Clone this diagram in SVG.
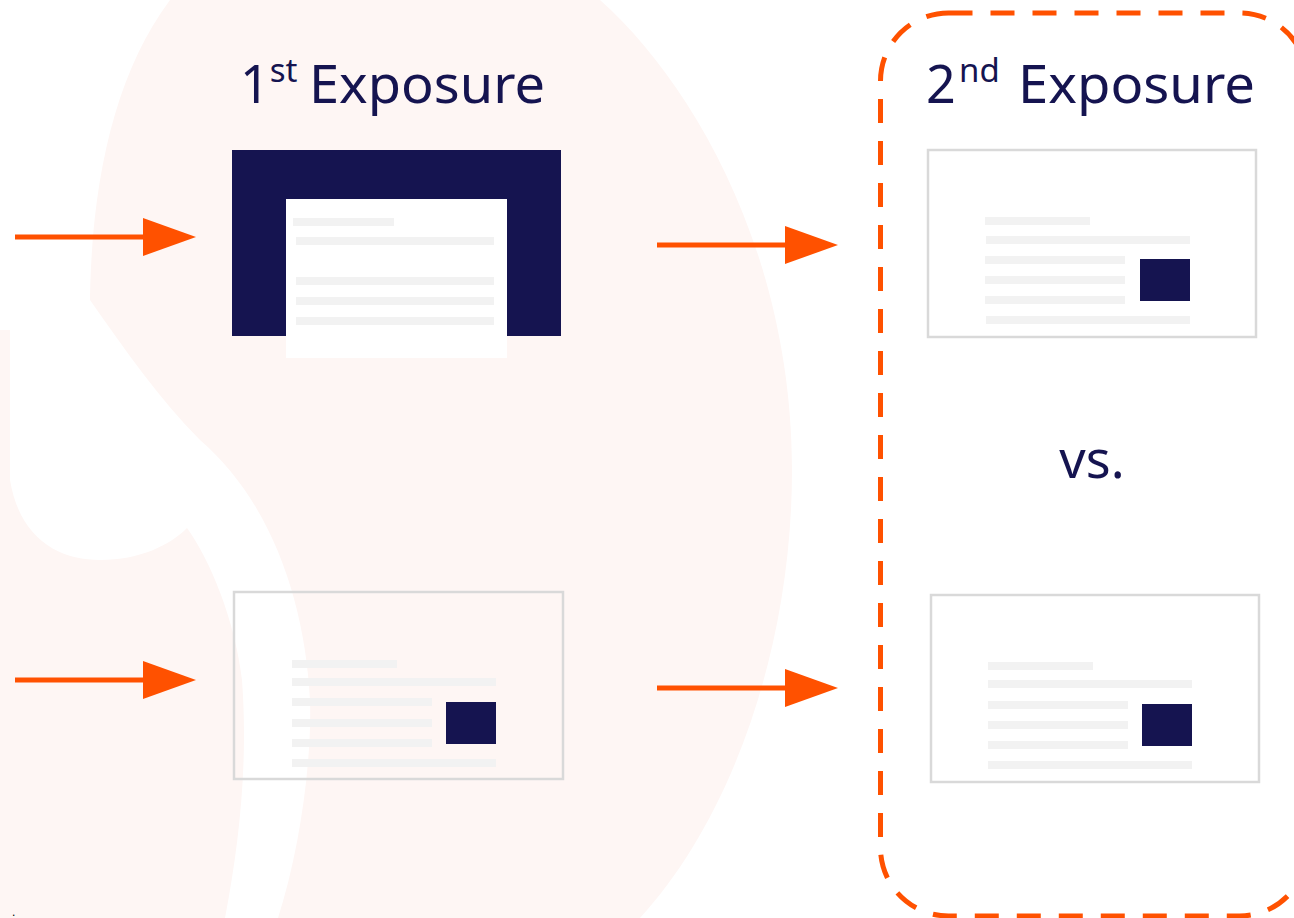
<svg xmlns="http://www.w3.org/2000/svg" width="1294" height="918" viewBox="0 0 1294 918">
  <defs>
    <style>
      .title { font-family: "Noto Sans", "Liberation Sans", sans-serif; fill: #151450; }
      .navy { fill: #151450; }
      .bar { fill: #f2f2f2; }
      .card { fill: #ffffff; stroke: #d9d9d9; stroke-width: 2.5; }
      .card-clear { fill: none; stroke: #d9d9d9; stroke-width: 2.5; }
      .conn { stroke: #ff5100; stroke-width: 5; fill: none; }
      .head { fill: #ff5100; }
    </style>
  </defs>

  <rect width="1294" height="918" fill="#ffffff"/>

  <!-- faint background watermark -->
  <g id="background">
    <path d="M 170,0 L 600,0 C 690,80 792,250 792,470 C 792,650 730,820 640,918 L 0,918 L 0,330 L 90,330 C 88,200 110,80 170,0 Z" fill="#fef6f4"/>
    <path d="M 10,300 L 90,300 C 125,350 160,400 200,440 C 270,500 305,600 310,700 C 312,760 300,850 278,918 L 225,918 C 240,840 248,760 242,680 C 235,620 210,560 187,528 C 170,545 140,560 100,560 C 60,560 20,540 10,480 Z" fill="#ffffff"/>
  </g>

  <!-- 2nd exposure dashed frame -->
  <g id="frame-2nd">
    <rect x="880.5" y="13" width="427" height="903" rx="68" ry="68" fill="none" stroke="#ff5100" stroke-width="5" stroke-dasharray="24 18"/>
  </g>

  <g id="title-1st">
    <text class="title" x="240" y="103" font-size="52">1<tspan dy="-21" font-size="33">st</tspan><tspan x="309" y="103" textLength="236" lengthAdjust="spacingAndGlyphs">Exposure</tspan></text>
  </g>

  <g id="title-2nd">
    <text class="title" x="926" y="103" font-size="52">2<tspan x="959" dy="-21" font-size="33">nd</tspan><tspan x="1018" y="103" textLength="237" lengthAdjust="spacingAndGlyphs">Exposure</tspan></text>
  </g>

  <g id="vs-label">
    <text class="title" x="1092" y="478" font-size="52" text-anchor="middle">vs.</text>
  </g>

  <!-- 1st exposure, top: interstitial style -->
  <g id="card-1st-top">
    <rect class="navy" x="232" y="150" width="329" height="186"/>
    <rect x="286" y="199" width="221" height="159" fill="#ffffff"/>
    <rect class="bar" x="293" y="218" width="101" height="8"/>
    <rect class="bar" x="296" y="237" width="198" height="8"/>
    <rect class="bar" x="296" y="277" width="198" height="8"/>
    <rect class="bar" x="296" y="297" width="198" height="8"/>
    <rect class="bar" x="296" y="317" width="198" height="8"/>
  </g>

  <!-- 1st exposure, bottom -->
  <g id="card-1st-bottom">
    <rect class="card-clear" x="234" y="592" width="329" height="187"/>
    <rect class="bar" x="292" y="660" width="105" height="8"/>
    <rect class="bar" x="292" y="678" width="204" height="8"/>
    <rect class="bar" x="292" y="698" width="140" height="8"/>
    <rect class="bar" x="292" y="719" width="140" height="8"/>
    <rect class="bar" x="292" y="739" width="140" height="8"/>
    <rect class="bar" x="292" y="759" width="204" height="8"/>
    <rect class="navy" x="446" y="702" width="50" height="42"/>
  </g>

  <!-- 2nd exposure, top -->
  <g id="card-2nd-top">
    <rect class="card" x="928" y="150" width="328" height="187"/>
    <rect class="bar" x="985" y="217" width="105" height="8"/>
    <rect class="bar" x="986" y="236" width="204" height="8"/>
    <rect class="bar" x="985" y="256" width="140" height="8"/>
    <rect class="bar" x="985" y="276" width="140" height="8"/>
    <rect class="bar" x="985" y="296" width="140" height="8"/>
    <rect class="bar" x="986" y="316" width="204" height="8"/>
    <rect class="navy" x="1140" y="259" width="50" height="42"/>
  </g>

  <!-- 2nd exposure, bottom -->
  <g id="card-2nd-bottom">
    <rect class="card" x="931" y="595" width="328" height="187"/>
    <rect class="bar" x="988" y="662" width="105" height="8"/>
    <rect class="bar" x="988" y="680" width="204" height="8"/>
    <rect class="bar" x="988" y="701" width="140" height="8"/>
    <rect class="bar" x="988" y="721" width="140" height="8"/>
    <rect class="bar" x="988" y="741" width="140" height="8"/>
    <rect class="bar" x="988" y="761" width="204" height="8"/>
    <rect class="navy" x="1142" y="704" width="50" height="42"/>
  </g>

  <!-- connectors -->
  <g id="connectors">
    <line class="conn" x1="15" y1="237" x2="146" y2="237"/>
    <polygon class="head" points="143,218 196,237 143,256"/>
    <line class="conn" x1="15" y1="680" x2="146" y2="680"/>
    <polygon class="head" points="143,661 196,680 143,699"/>
    <line class="conn" x1="657" y1="245" x2="788" y2="245"/>
    <polygon class="head" points="785,226 838,245 785,264"/>
    <line class="conn" x1="657" y1="688" x2="788" y2="688"/>
    <polygon class="head" points="785,669 838,688 785,707"/>
  </g>

  <text x="12" y="916" font-family="Liberation Sans, sans-serif" font-size="12" fill="#000000">.</text>
</svg>
